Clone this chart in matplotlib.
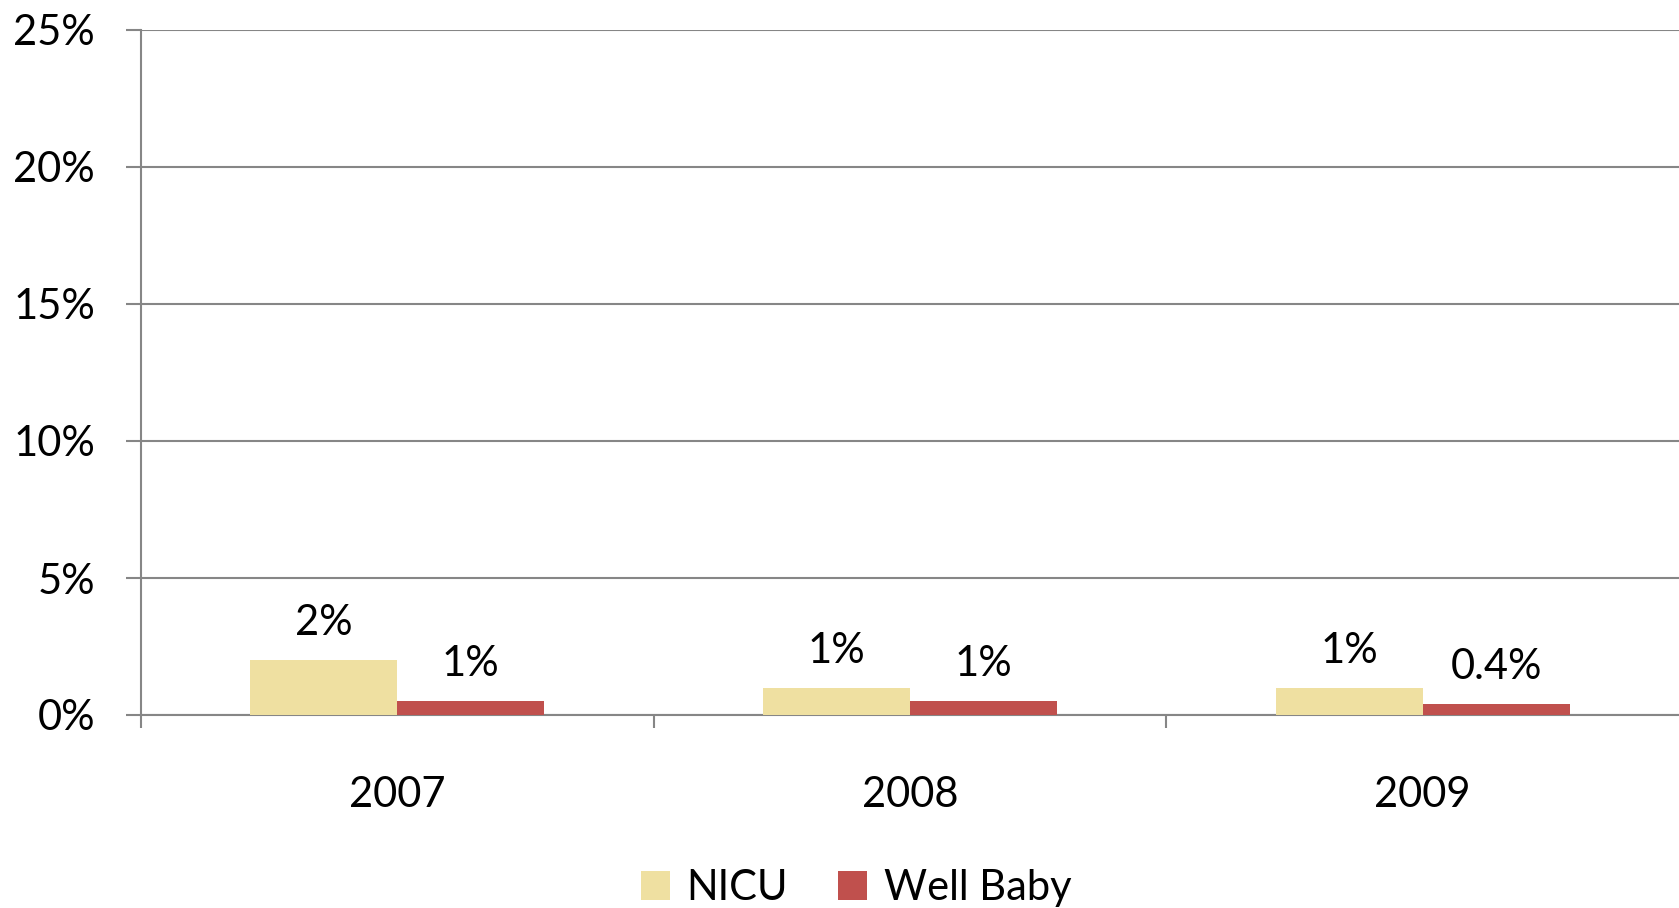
import matplotlib.pyplot as plt
import numpy as np

# Datos
years = ['2007', '2008', '2009']
nicu = [2.0, 1.0, 1.0]
well_baby = [0.5, 0.5, 0.4]
nicu_labels = ['2%', '1%', '1%']
well_labels = ['1%', '1%', '0.4%']
y_ticks = [0, 5, 10, 15, 20, 25]

plt.rcParams['font.family'] = ['Lato', 'DejaVu Sans']
plt.rcParams['font.size'] = 30

fig = plt.figure(figsize=(16.79, 9.08), dpi=100)
ax = fig.add_axes([141 / 1679, 1 - 715 / 908, 1 - 141 / 1679, 685 / 908])

x = np.arange(len(years))
w = 0.287
grid_col = '#868686'

b1 = ax.bar(x - w / 2, nicu, w, color='#EFE0A1', label='NICU', zorder=3)
b2 = ax.bar(x + w / 2, well_baby, w, color='#C0504D', label='Well Baby', zorder=3)

for bars, labs in ((b1, nicu_labels), (b2, well_labels)):
    for r, lab in zip(bars, labs):
        ax.annotate(lab, (r.get_x() + r.get_width() / 2, r.get_height()),
                    textcoords='offset points', xytext=(0, 18),
                    ha='center', va='baseline', fontsize=30)

ax.set_xlim(-0.5, len(years) - 0.5)
ax.set_ylim(0, 25)
ax.set_yticks(y_ticks)
ax.set_yticklabels([f'{v}%' for v in y_ticks])
ax.yaxis.grid(True, color=grid_col, linewidth=1.5, zorder=0)
ax.tick_params(axis='y', length=11, width=1.5, color=grid_col, pad=22)

# categorias: marcas en los bordes, etiquetas en el centro
ax.set_xticks(np.arange(len(years)) - 0.5)
ax.set_xticklabels([])
ax.set_xticks(x, minor=True)
ax.set_xticklabels(years, minor=True)
ax.tick_params(axis='x', which='major', length=9, width=1.5, color=grid_col)
ax.tick_params(axis='x', which='minor', length=0, pad=44)

for s in ['top', 'right']:
    ax.spines[s].set_visible(False)
for s in ['left', 'bottom']:
    ax.spines[s].set_color(grid_col)
    ax.spines[s].set_linewidth(1.5)

fig.legend(loc='lower center', bbox_to_anchor=(0.51, -0.04), ncol=2, frameon=False,
           handlelength=0.7, handleheight=0.7, handletextpad=0.4, columnspacing=1.2,
           fontsize=30)

fig.savefig('out.png', dpi=100)
